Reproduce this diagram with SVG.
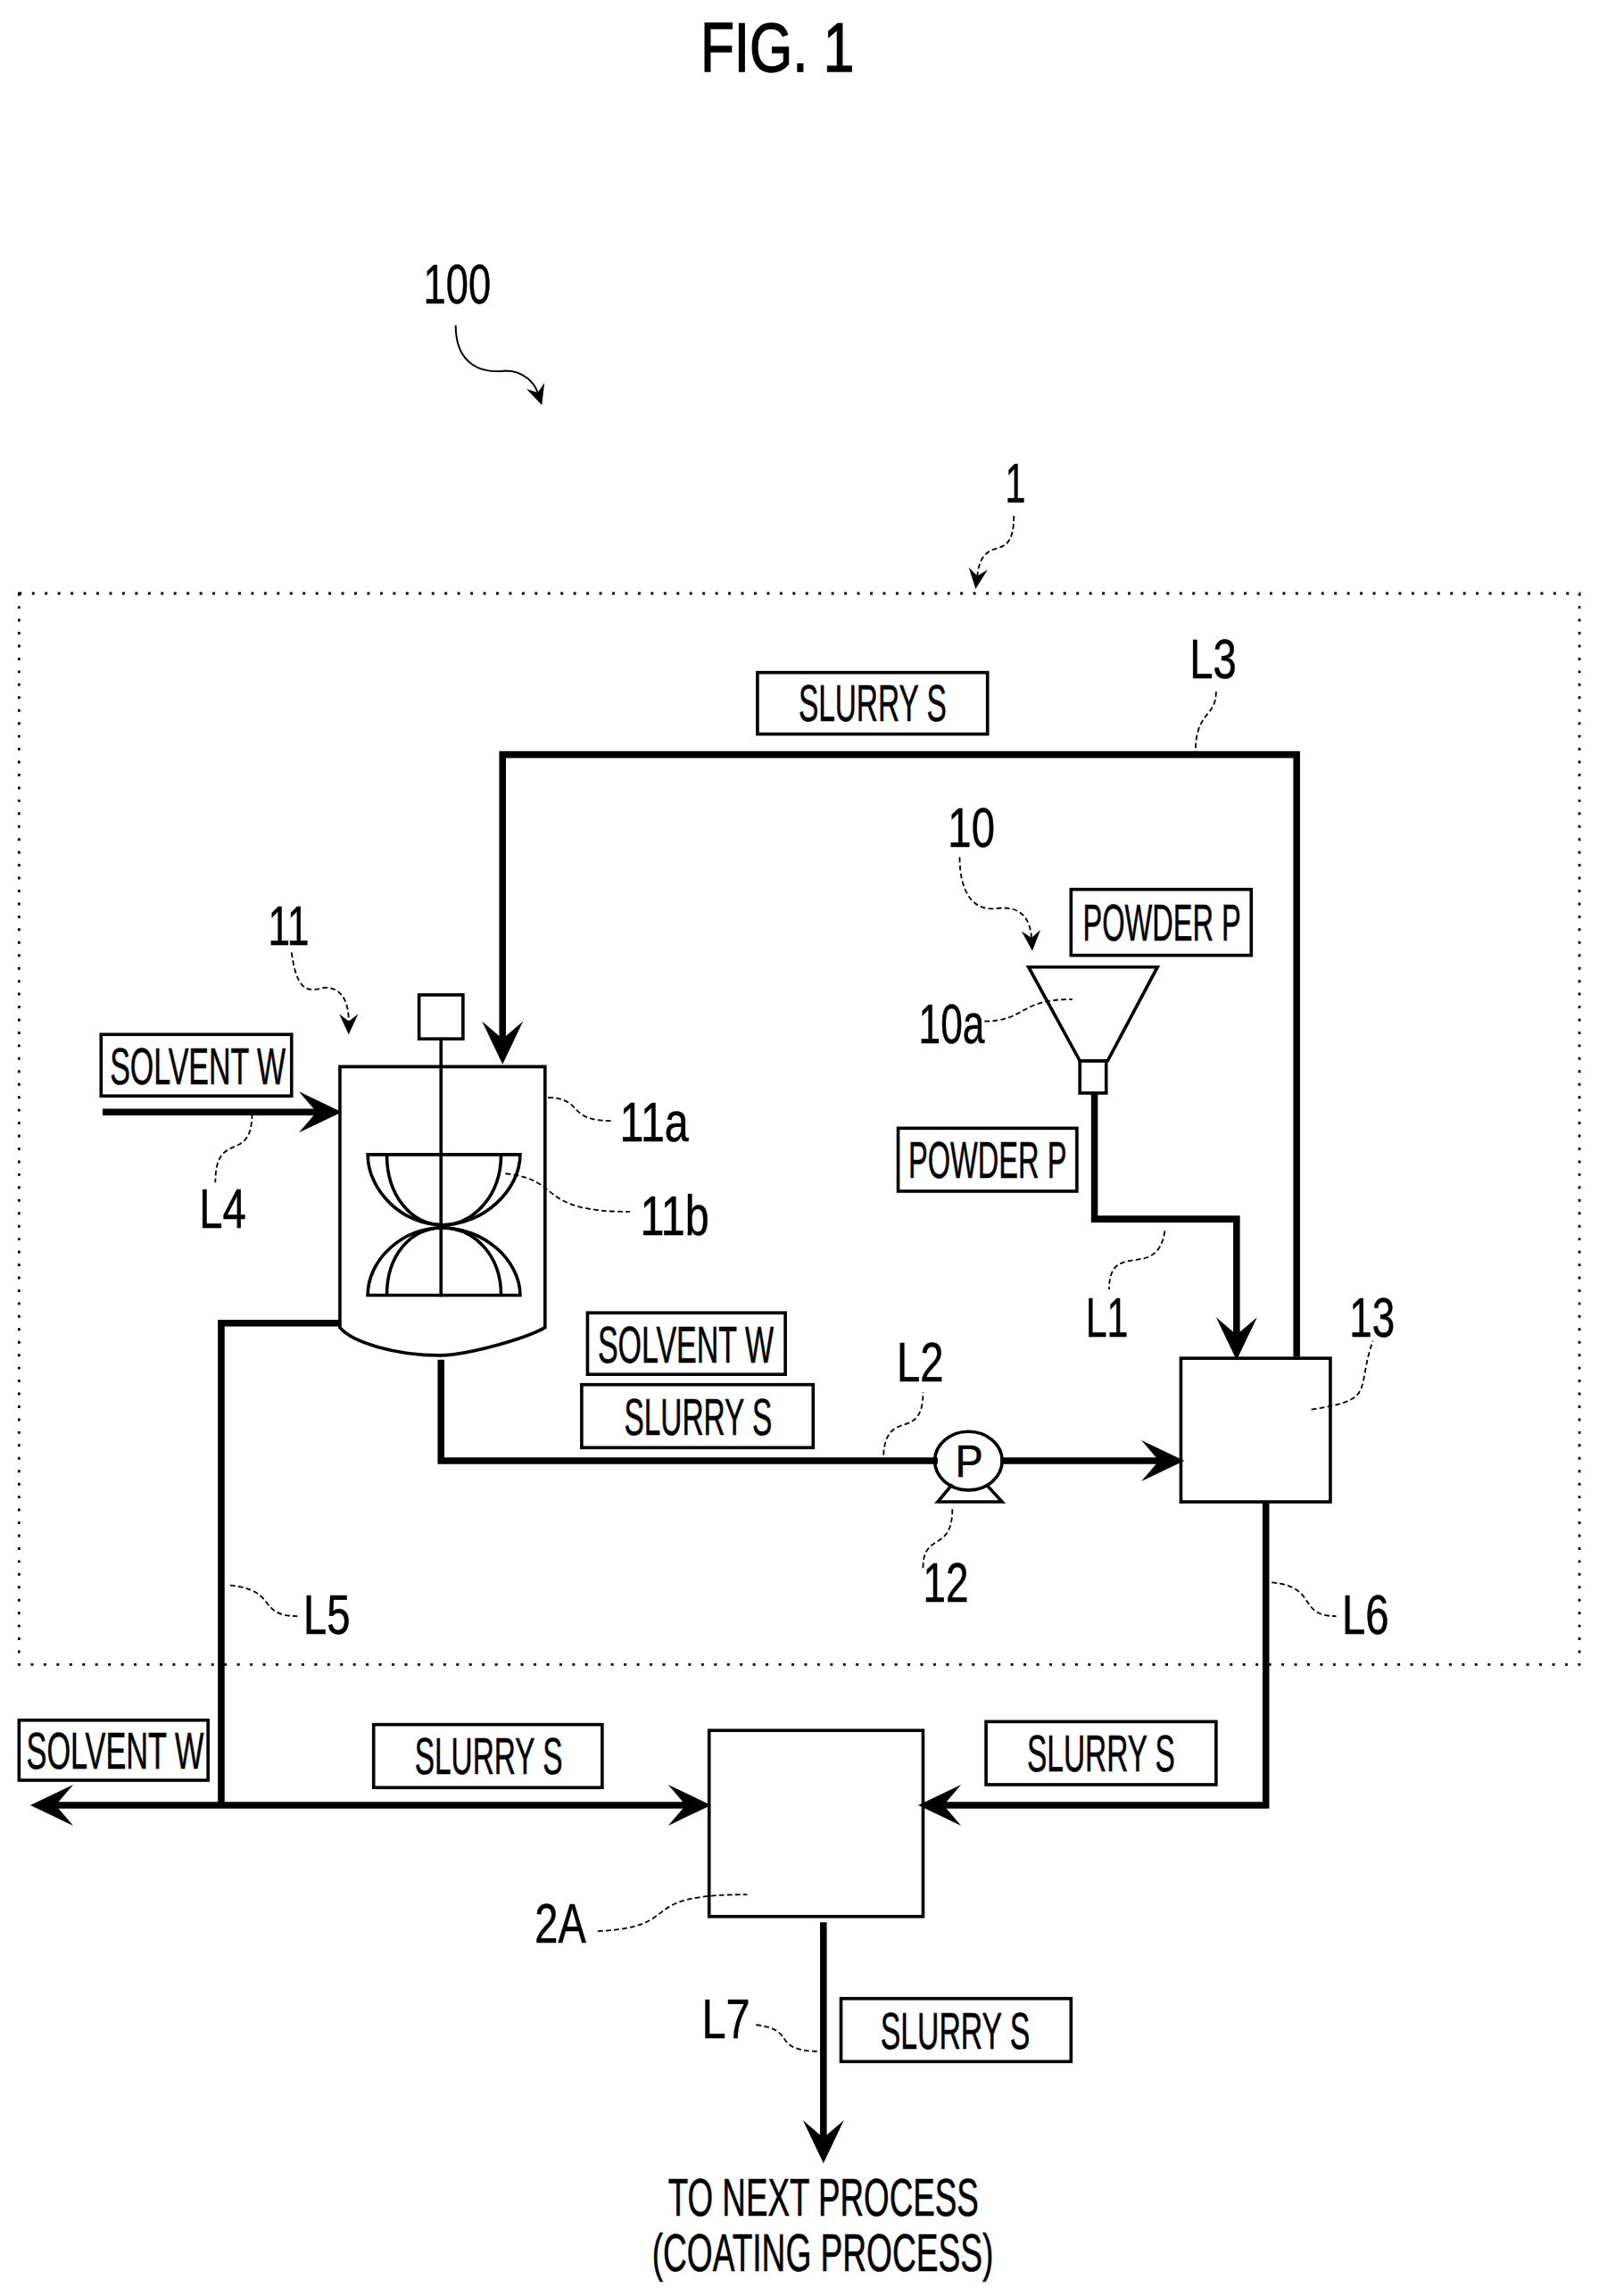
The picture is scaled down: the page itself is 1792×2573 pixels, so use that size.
<svg xmlns="http://www.w3.org/2000/svg" width="1792" height="2573" viewBox="0 0 1792 2573">
<style>
text{font-family:"Liberation Sans",Arial,sans-serif;fill:#000;stroke:#000;stroke-width:.35;font-size:35px}
.n{font-size:38px}
.g{font-size:36px}
.b{fill:#fff;stroke:#000;stroke-width:2.2}
.p{fill:none;stroke:#000;stroke-width:4.6;stroke-linejoin:miter}
.s{fill:none;stroke:#000;stroke-width:2.2}
.l{fill:none;stroke:#000;stroke-width:1.1;stroke-dasharray:3.5 2}
</style>
<defs>
<marker id="a" markerUnits="userSpaceOnUse" orient="auto" markerWidth="40" markerHeight="40" refX="0" refY="0" viewBox="-15 -15 30 30"><path d="M13,0L-9,-10.5L0,0L-9,10.5Z" fill="#000"/></marker>
<marker id="m" markerUnits="userSpaceOnUse" orient="auto" markerWidth="24" markerHeight="24" refX="0" refY="0" viewBox="-12 -12 24 24"><path d="M9,0L-5,-6.5L0,0L-5,6.5Z" fill="#000"/></marker>
</defs>
<rect width="1792" height="2573" fill="#fff"/>
<g transform="scale(1.642)">
<text id="title" x="478" y="49" style="font-size:47px;stroke-width:.9" textLength="105" lengthAdjust="spacingAndGlyphs">FIG. 1</text>
<rect id="system-1" x="13" y="405" width="1065" height="731" fill="none" stroke="#000" stroke-width="1.7" stroke-dasharray="1.8 7"/>
<g id="connectors">
<path class="p" marker-end="url(#a)" d="M885,926V515H343V709"/>
<path class="p" marker-end="url(#a)" d="M70,759H216"/>
<path class="p" d="M232,903H151V1231"/>
<path class="p" d="M301,928V997H640"/>
<path class="p" marker-end="url(#a)" d="M683,997H791"/>
<path class="p" marker-end="url(#a)" d="M747,746V832H844V911"/>
<path class="p" marker-end="url(#a)" d="M864,1025V1232H644"/>
<path class="p" marker-end="url(#a)" d="M151,1232H38"/>
<path class="p" marker-end="url(#a)" d="M151,1232H468"/>
<path class="p" marker-end="url(#a)" d="M562,1312V1459"/>
</g>
<g id="leaders">
<path class="s" style="stroke-width:1.2" marker-end="url(#m)" d="M311,222C311,250 330,255 345,253C358,253 365,262 367,268"/>
<path class="l" marker-end="url(#m)" d="M692,352C692,372 685,373 678,375C670,378 668,385 667,393"/>
<path class="l" d="M830,472C830,490 816,485 816,513"/>
<path class="l" marker-end="url(#m)" d="M655,585C655,610 665,622 680,620C695,618 703,625 704,640"/>
<path class="l" d="M672,697C700,697 695,682 732,682"/>
<path class="l" marker-end="url(#m)" d="M199,650C203,680 212,676 222,674C234,674 238,685 238,697"/>
<path class="l" d="M374,749C400,750 385,765 418,765"/>
<path class="l" d="M345,801C385,805 365,827 430,827"/>
<path class="l" d="M172,760C172,795 147,770 147,807"/>
<path class="l" d="M795,840C790,875 757,845 757,880"/>
<path class="l" d="M895,962C940,955 925,950 937,915"/>
<path class="l" d="M603,993C605,960 630,985 630,950"/>
<path class="l" d="M650,1030C650,1060 630,1045 630,1070"/>
<path class="l" d="M157,1082C190,1085 175,1103 203,1103"/>
<path class="l" d="M868,1080C900,1083 885,1103 912,1103"/>
<path class="l" d="M408,1318C470,1315 430,1293 510,1293"/>
<path class="l" d="M516,1382C545,1385 525,1400 560,1400"/>
</g>
<g id="mixer-11">
<rect class="s" x="286" y="679" width="30" height="30"/>
<path class="s" d="M232,728H372V906C360,913 320,925 300,925C270,925 240,916 232,906Z" fill="#fff"/>
<path class="s" d="M301,709V885"/>
<path class="s" d="M251,788H355C355,812 330,836 302,836C274,836 251,812 251,788Z"/>
<path class="s" d="M264,788C264,815 280,836 302,836C324,836 342,815 342,788"/>
<path class="s" d="M251,884H355C355,860 330,838 302,838C274,838 251,860 251,884Z"/>
<path class="s" d="M264,884C264,857 280,838 302,838C324,838 342,857 342,884"/>
</g>
<g id="hopper-10"><path class="s" d="M702,660H790L756,724H737Z"/><rect class="s" x="737" y="724" width="18" height="22" fill="#fff"/></g>
<g id="pump-12"><ellipse class="s" cx="661" cy="997" rx="23" ry="20" fill="#fff"/><path class="s" d="M650,1013L640,1025H684L673,1013"/><text x="652" y="1008" style="font-size:30px" textLength="19" lengthAdjust="spacingAndGlyphs">P</text></g>
<g id="unit-13"><rect class="s" x="806" y="927" width="102" height="98" fill="#fff"/></g>
<g id="unit-2A"><rect class="s" x="484" y="1181" width="146" height="127" fill="#fff"/></g>
<g id="labels">
<rect class="b" x="517" y="459" width="157" height="42"/><text x="545" y="492" textLength="101" lengthAdjust="spacingAndGlyphs">SLURRY S</text>
<rect class="b" x="731" y="607" width="123" height="45"/><text x="739" y="642" textLength="108" lengthAdjust="spacingAndGlyphs">POWDER P</text>
<rect class="b" x="69" y="706" width="130" height="42"/><text x="75" y="740" textLength="120" lengthAdjust="spacingAndGlyphs">SOLVENT W</text>
<rect class="b" x="613" y="770" width="122" height="43"/><text x="620" y="804" textLength="108" lengthAdjust="spacingAndGlyphs">POWDER P</text>
<rect class="b" x="401" y="896" width="135" height="42"/><text x="408" y="930" textLength="120" lengthAdjust="spacingAndGlyphs">SOLVENT W</text>
<rect class="b" x="397" y="945" width="158" height="43"/><text x="426" y="979" textLength="101" lengthAdjust="spacingAndGlyphs">SLURRY S</text>
<rect class="b" x="13" y="1174" width="129" height="41"/><text x="18" y="1207" textLength="121" lengthAdjust="spacingAndGlyphs">SOLVENT W</text>
<rect class="b" x="255" y="1177" width="156" height="43"/><text x="283" y="1211" textLength="101" lengthAdjust="spacingAndGlyphs">SLURRY S</text>
<rect class="b" x="673" y="1175" width="157" height="43"/><text x="701" y="1209" textLength="101" lengthAdjust="spacingAndGlyphs">SLURRY S</text>
<rect class="b" x="574" y="1364" width="157" height="43"/><text x="601" y="1398" textLength="102" lengthAdjust="spacingAndGlyphs">SLURRY S</text>
<text class="g" x="456" y="1512" textLength="212" lengthAdjust="spacingAndGlyphs">TO NEXT PROCESS</text>
<text class="g" x="445" y="1550" textLength="233" lengthAdjust="spacingAndGlyphs">(COATING PROCESS)</text>
<text class="n" x="289" y="207" textLength="46" lengthAdjust="spacingAndGlyphs">100</text>
<text class="n" x="686" y="343" textLength="14" lengthAdjust="spacingAndGlyphs">1</text>
<text class="n" x="812" y="463" textLength="32" lengthAdjust="spacingAndGlyphs">L3</text>
<text class="n" x="647" y="578" textLength="32" lengthAdjust="spacingAndGlyphs">10</text>
<text class="n" x="627" y="712" textLength="45" lengthAdjust="spacingAndGlyphs">10a</text>
<text class="n" x="183" y="645" textLength="28" lengthAdjust="spacingAndGlyphs">11</text>
<text class="n" x="423" y="779" textLength="47" lengthAdjust="spacingAndGlyphs">11a</text>
<text class="n" x="437" y="843" textLength="47" lengthAdjust="spacingAndGlyphs">11b</text>
<text class="n" x="136" y="838" textLength="32" lengthAdjust="spacingAndGlyphs">L4</text>
<text class="n" x="741" y="912" textLength="29" lengthAdjust="spacingAndGlyphs">L1</text>
<text class="n" x="921" y="912" textLength="31" lengthAdjust="spacingAndGlyphs">13</text>
<text class="n" x="612" y="943" textLength="32" lengthAdjust="spacingAndGlyphs">L2</text>
<text class="n" x="630" y="1093" textLength="31" lengthAdjust="spacingAndGlyphs">12</text>
<text class="n" x="207" y="1115" textLength="32" lengthAdjust="spacingAndGlyphs">L5</text>
<text class="n" x="916" y="1115" textLength="32" lengthAdjust="spacingAndGlyphs">L6</text>
<text class="n" x="365" y="1326" textLength="35" lengthAdjust="spacingAndGlyphs">2A</text>
<text class="n" x="479" y="1391" textLength="33" lengthAdjust="spacingAndGlyphs">L7</text>
</g>
</g>
</svg>
